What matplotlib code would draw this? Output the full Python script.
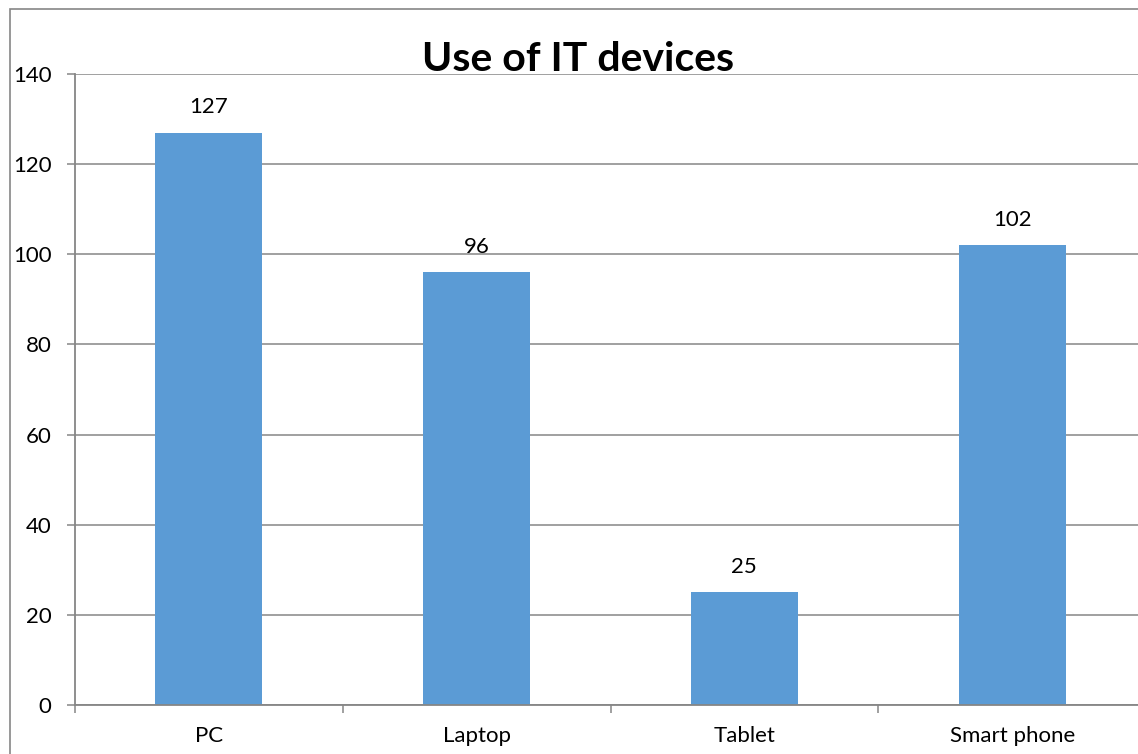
#!/usr/bin/env python3

import matplotlib
import matplotlib.pyplot as plt
from matplotlib.patches import Rectangle
from matplotlib.ticker import FixedLocator, NullFormatter

matplotlib.use('Agg')

devices = ['PC', 'Laptop', 'Tablet', 'Smart phone']
counts = [127, 96, 25, 102]
y_ticks = [0, 20, 40, 60, 80, 100, 120, 140]

W, H = 1138, 754
BAR_BLUE = '#5B9BD5'
AXIS_GRAY = '#868686'
LABEL_SIZE = 16

plt.rcParams['font.family'] = ['Lato', 'DejaVu Sans']

fig = plt.figure(figsize=(W / 100, H / 100), dpi=100)

# outer chart frame (runs off the right and bottom edges)
fig.patches.append(Rectangle((10 / W, -0.1), 1.2, 1 - 9 / H + 0.1,
                             transform=fig.transFigure, fill=False,
                             edgecolor=AXIS_GRAY, linewidth=1.2))

left, right, top, bottom = 75, 1146, 74, 705
ax = fig.add_axes([left / W, (H - bottom) / H, (right - left) / W, (bottom - top) / H])

x = list(range(len(devices)))
ax.bar(x, counts, width=0.4, color=BAR_BLUE, zorder=3)

for xi, v in zip(x, counts):
    ax.annotate(str(v), (xi, v), xytext=(0, 11), textcoords='offset points',
                ha='center', va='bottom', fontsize=LABEL_SIZE, color='black')

ax.set_xlim(-0.5, len(devices) - 0.5)
ax.set_ylim(0, 140)
ax.set_yticks(y_ticks)
ax.yaxis.grid(True, color=AXIS_GRAY, linewidth=1.1, zorder=0)

# category boundaries get the tick marks, names sit in between
ax.xaxis.set_major_locator(FixedLocator([i - 0.5 for i in range(len(devices) + 1)]))
ax.xaxis.set_major_formatter(NullFormatter())
ax.xaxis.set_minor_locator(FixedLocator(x))
ax.set_xticklabels(devices, minor=True)
ax.tick_params(axis='x', which='major', length=6, width=1.1, color=AXIS_GRAY, direction='out')
ax.tick_params(axis='x', which='minor', length=0, pad=15, labelsize=LABEL_SIZE)
ax.tick_params(axis='y', length=6, width=1.1, color=AXIS_GRAY, direction='out',
               pad=11, labelsize=LABEL_SIZE)

for side in ('top', 'right'):
    ax.spines[side].set_visible(False)
for side in ('left', 'bottom'):
    ax.spines[side].set_color(AXIS_GRAY)
    ax.spines[side].set_linewidth(1.3)
ax.spines['bottom'].set_zorder(4)

fig.text(578 / W, (H - 71) / H, 'Use of IT devices', ha='center', va='baseline',
         fontsize=29.5, fontweight='bold')

fig.savefig('out.png', dpi=100)
